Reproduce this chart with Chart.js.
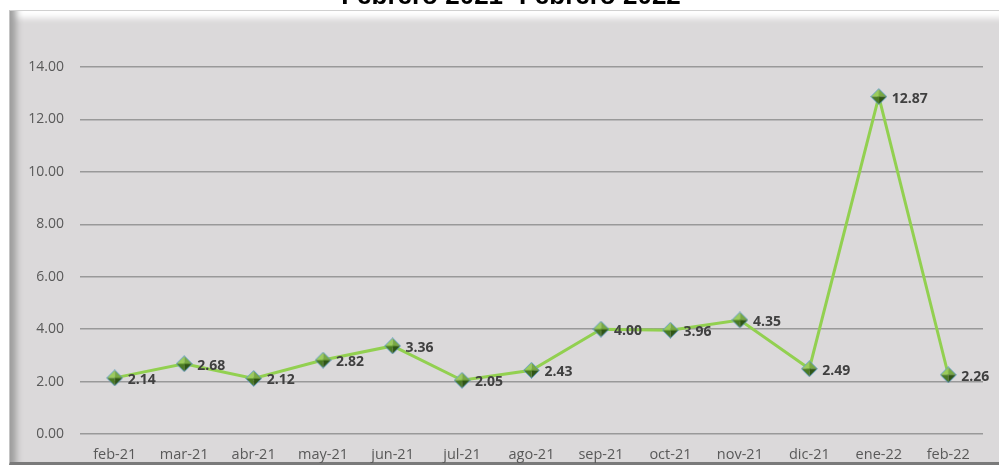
<!DOCTYPE html>
<html>
<head>
<meta charset="utf-8">
<script src="https://cdn.jsdelivr.net/npm/chart.js@4.4.1/dist/chart.umd.min.js"></script>
<style>
  html, body { margin: 0; padding: 0; background: #ffffff; overflow: hidden; }
  #wrap { position: relative; width: 999px; height: 466px; }
  .frame {
    position: absolute; left: 9px; top: 10px; width: 995px; height: 451px;
    background: #dbd9da;
    border-top: 1px solid #d0d0d0;
    border-left: 1px solid #c4c4c4;
    border-bottom: 3px solid #7a7a7a;
    box-shadow: inset 13px 0 7px -7px #9c9c9c, inset 0 12px 6px -5px #ffffff;
  }
  canvas { position: absolute; left: 0; top: 0; }
</style>
</head>
<body>
<div id="wrap">
  <div class="frame"></div>
  <canvas id="line-chart" width="999" height="466"></canvas>
</div>
<script>
// chart values
const chartTitle = 'Febrero 2021- Febrero 2022';
const months = ['feb-21', 'mar-21', 'abr-21', 'may-21', 'jun-21', 'jul-21', 'ago-21',
                'sep-21', 'oct-21', 'nov-21', 'dic-21', 'ene-22', 'feb-22'];
const rates = [2.14, 2.68, 2.12, 2.82, 3.36, 2.05, 2.43, 4.00, 3.96, 4.35, 2.49, 12.87, 2.26];
const yTicks = [0, 2, 4, 6, 8, 10, 12, 14];

// diamond marker with four shaded facets
function makeMarker() {
    const c = document.createElement('canvas');
    const s = 17, h = 8.5;
    c.width = s; c.height = s;
    const g = c.getContext('2d');
    const facets = [
        ['#9ccc5c', [h, 0.5], [0.5, h]],
        ['#78a843', [h, 0.5], [s - 0.5, h]],
        ['#4a7a24', [0.5, h], [h, s - 0.5]],
        ['#2f5515', [s - 0.5, h], [h, s - 0.5]]
    ];
    facets.forEach(function (f) {
        g.fillStyle = f[0];
        g.beginPath();
        g.moveTo(h, h);
        g.lineTo(f[1][0], f[1][1]);
        g.lineTo(f[2][0], f[2][1]);
        g.closePath();
        g.fill();
    });
    g.strokeStyle = 'rgba(91,155,213,0.85)';
    g.lineWidth = 1;
    g.beginPath();
    g.moveTo(h, 0.6); g.lineTo(s - 0.6, h); g.lineTo(h, s - 0.6); g.lineTo(0.6, h);
    g.closePath();
    g.stroke();
    return c;
}

const valueLabels = {
    id: 'valueLabels',
    afterDatasetsDraw: function (chart) {
        const ctx = chart.ctx;
        const meta = chart.getDatasetMeta(0);
        ctx.save();
        ctx.font = 'bold 14px "Open Sans", sans-serif';
        ctx.fillStyle = '#404040';
        ctx.textAlign = 'left';
        ctx.textBaseline = 'middle';
        meta.data.forEach(function (pt, i) {
            ctx.fillText(rates[i].toFixed(2), pt.x + 13, pt.y + 2);
        });
        ctx.restore();
    }
};

const titleText = {
    id: 'titleText',
    afterDraw: function (chart) {
        const ctx = chart.ctx;
        ctx.save();
        ctx.font = 'bold 26px "Liberation Sans", Arial, sans-serif';
        ctx.fillStyle = '#000000';
        ctx.textAlign = 'center';
        ctx.textBaseline = 'alphabetic';
        ctx.fillText(chartTitle, 511, 4);
        ctx.restore();
    }
};

new Chart(document.querySelector('#line-chart').getContext('2d'), {
    type: 'line',
    data: {
        labels: months,
        datasets: [{
            data: rates,
            borderColor: '#92d050',
            borderWidth: 3,
            tension: 0,
            pointStyle: makeMarker(),
            pointRadius: 8,
            pointHoverRadius: 8
        }]
    },
    options: {
        responsive: false,
        animation: false,
        events: [],
        layout: { padding: { left: 0, right: 16, top: 67, bottom: 0 } },
        plugins: {
            legend: { display: false },
            tooltip: { enabled: false }
        },
        scales: {
            x: {
                offset: true,
                grid: { display: false, drawTicks: false },
                border: { display: false },
                ticks: {
                    padding: 12,
                    color: '#595959',
                    font: { family: '"Open Sans", sans-serif', size: 14.5 },
                    maxRotation: 0,
                    autoSkip: false
                },
                afterFit: function (scale) { scale.height = 32; }
            },
            y: {
                min: 0,
                max: 14,
                afterBuildTicks: function (scale) {
                    scale.ticks = yTicks.map(function (v) { return { value: v }; });
                },
                grid: { color: '#999999', lineWidth: 1.5, drawTicks: false },
                border: { display: false },
                ticks: {
                    padding: 16,
                    color: '#595959',
                    font: { family: '"Open Sans", sans-serif', size: 14 },
                    callback: function (v) { return v.toFixed(2); }
                },
                afterFit: function (scale) { scale.width = 80; }
            }
        }
    },
    plugins: [valueLabels, titleText]
});
</script>
</body>
</html>
